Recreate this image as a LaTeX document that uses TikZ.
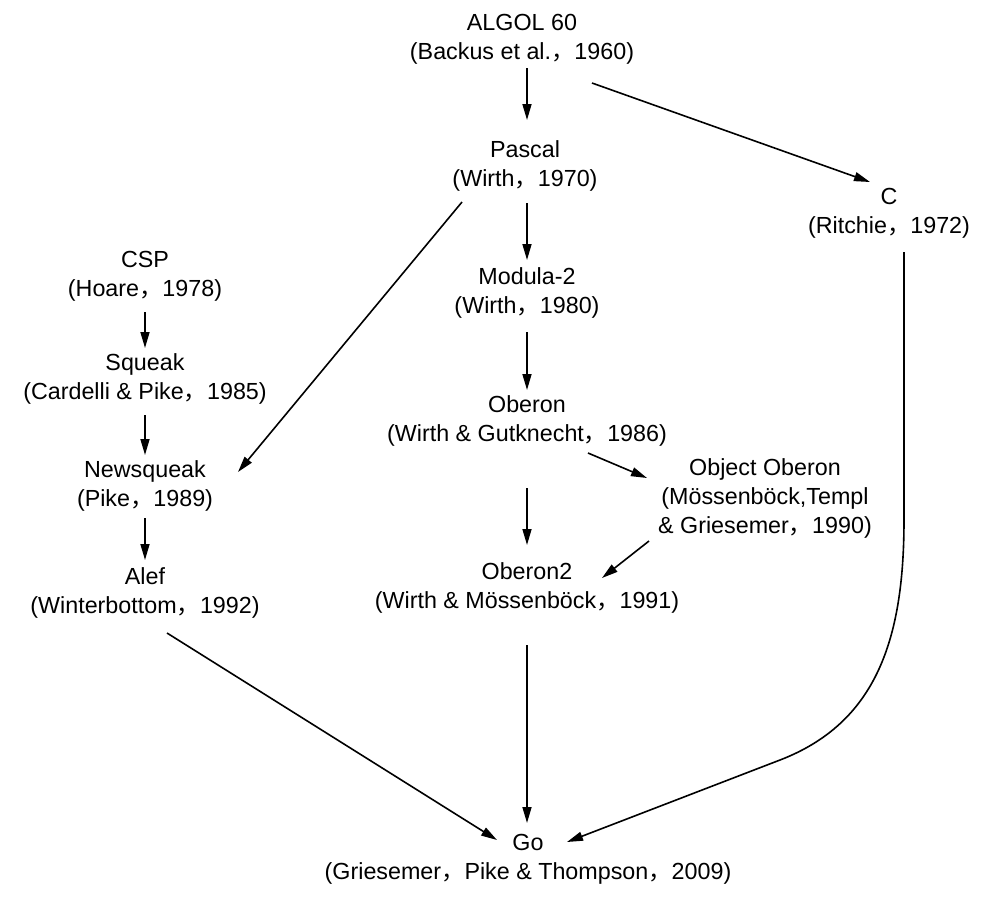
\documentclass[tikz,border=0pt]{standalone}
\usepackage{fontspec}
\setmainfont{Liberation Sans}
\newfontfamily\cjk{Noto Sans CJK SC}
\newcommand\zc{{\cjk ，}}
\usetikzlibrary{arrows.meta,calc}
\tikzset{
  lang/.style={align=center,inner sep=0pt,font=\fontsize{23.3}{29}\selectfont},
  arr/.style={line width=1.6pt,-{Triangle[length=16pt,width=9pt]}}
}
\begin{document}
\begin{tikzpicture}[x=1pt,y=-1pt]
\useasboundingbox[fill=white] (0,0) rectangle (994,906);
\node[lang] (algol) at (522,38.7) {ALGOL 60\strut\\(Backus et al.\zc 1960)\strut};
\node[lang] (pascal) at (525,166.6) {Pascal\strut\\(Wirth\zc 1970)\strut};
\node[lang] (c) at (889,213.6) {C\strut\\(Ritchie\zc 1972)\strut};
\node[lang] (csp) at (145,276.6) {CSP\strut\\(Hoare\zc 1978)\strut};
\node[lang] (modula) at (527,293.6) {Modula-2\strut\\(Wirth\zc 1980)\strut};
\node[lang] (squeak) at (145,379.6) {Squeak\strut\\(Cardelli \& Pike\zc 1985)\strut};
\node[lang] (oberon) at (527,421.6) {Oberon\strut\\(Wirth \& Gutknecht\zc 1986)\strut};
\node[lang] (newsqueak) at (145,486.6) {Newsqueak\strut\\(Pike\zc 1989)\strut};
\node[lang] (objoberon) at (765,498.2) {Object Oberon\strut\\(Mössenböck,Templ\strut\\\& Griesemer\zc 1990)\strut};
\node[lang] (oberon2) at (527,588.6) {Oberon2\strut\\(Wirth \& Mössenböck\zc 1991)\strut};
\node[lang] (alef) at (145,593.6) {Alef\strut\\(Winterbottom\zc 1992)\strut};
\node[lang] (go) at (528,859.6) {Go\strut\\(Griesemer\zc Pike \& Thompson\zc 2009)\strut};

\draw[arr] ($(algol)+(5,29.3)$) -- ($(pascal)+(2,-46.6)$);
\draw[arr] ($(pascal)+(2,36.4)$) -- ($(modula)+(0,-33.6)$);
\draw[arr] ($(modula)+(0,38.4)$) -- ($(oberon)+(0,-31.6)$);
\draw[arr] ($(oberon)+(0,66.4)$) -- ($(oberon2)+(0,-43.6)$);
\draw[arr] ($(oberon2)+(0,56.4)$) -- ($(go)+(-1,-36.6)$);
\draw[arr] ($(csp)+(0,35.4)$) -- ($(squeak)+(0,-31.6)$);
\draw[arr] ($(squeak)+(0,35.4)$) -- ($(newsqueak)+(0,-31.6)$);
\draw[arr] ($(newsqueak)+(0,31.4)$) -- ($(alef)+(0,-33.6)$);
\draw[arr] ($(algol)+(70,44.3)$) -- ($(c)+(-19,-31.6)$);
\draw[arr] ($(pascal)+(-63,35.4)$) -- ($(newsqueak)+(93,-14.6)$);
\draw[arr] ($(oberon)+(61,31.4)$) -- ($(objoberon)+(-118,-20.2)$);
\draw[arr] ($(objoberon)+(-116,42.8)$) -- ($(oberon2)+(75,-10.6)$);
\draw[arr] ($(alef)+(22,39.4)$) -- ($(go)+(-31,-19.6)$);
\draw[arr] ($(c)+(15,38.4)$) -- (904,520) .. controls (904,640) and (876,723) .. (780,760) -- ($(go)+(39,-17.6)$);
\end{tikzpicture}
\end{document}
